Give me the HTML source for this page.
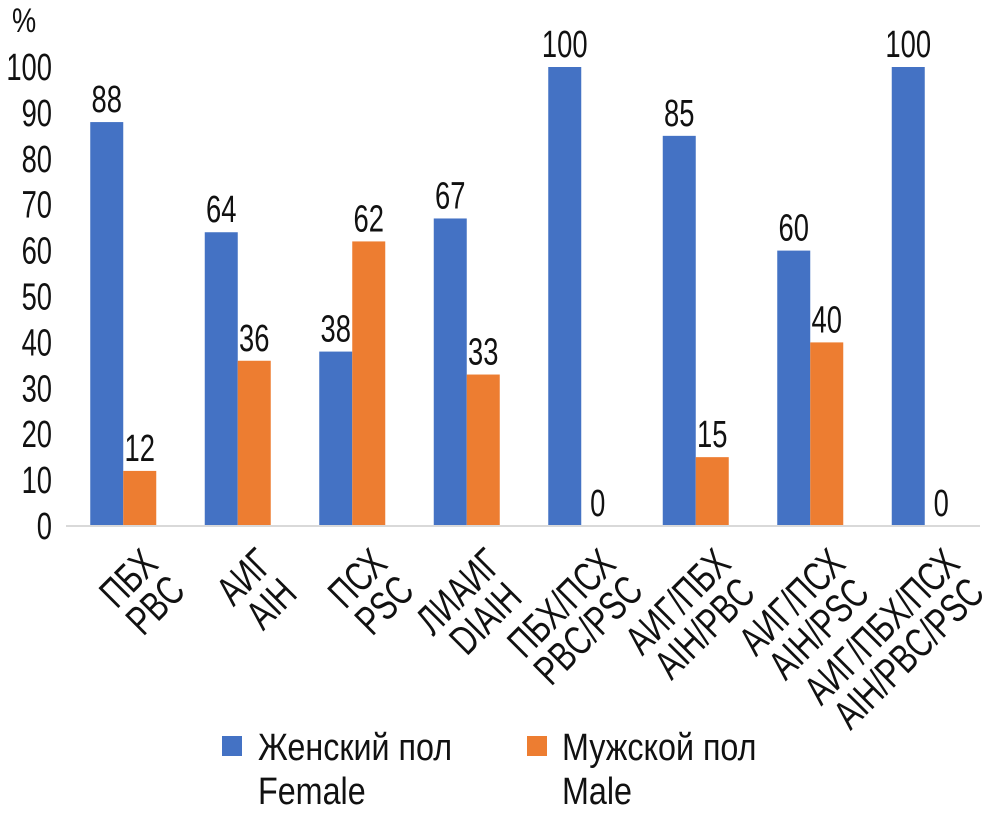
<!DOCTYPE html>
<html><head><meta charset="utf-8"><style>
body{margin:0;background:#fff;}
svg text{font-family:"Liberation Sans Narrow","Liberation Sans",sans-serif;fill:#111;}
</style></head><body>
<svg id="chart" width="982" height="816" viewBox="0 0 982 816" xmlns="http://www.w3.org/2000/svg">
<g id="yaxis"></g>
<g id="bars"></g>
<g id="xlabels"></g>
<text transform="translate(12,32) scale(0.8,1)" font-size="34">%</text>
<line x1="66" y1="526" x2="980" y2="526" stroke="#d9d9d9" stroke-width="2"/>
<g>
<g>
<rect x="222" y="736" width="20" height="20" fill="#4472C4"/>
<text transform="translate(258,760) scale(0.85,1)" font-size="38">Женский пол</text>
<text transform="translate(258,804) scale(0.85,1)" font-size="38">Female</text>
</g>
<g>
<rect x="527" y="736" width="20" height="20" fill="#ED7D31"/>
<text transform="translate(562,760) scale(0.85,1)" font-size="38">Мужской пол</text>
<text transform="translate(562,804) scale(0.85,1)" font-size="38">Male</text>
</g>
</g>
</svg>
<script>
const categories=[["ПБХ","PBC"],["АИГ","AIH"],["ПСХ","PSC"],["ЛИАИГ","DIAIH"],["ПБХ/ПСХ","PBC/PSC"],["АИГ/ПБХ","AIH/PBC"],["АИГ/ПСХ","AIH/PSC"],["АИГ/ПБХ/ПСХ","AIH/PBC/PSC"]];
const female=[88,64,38,67,100,85,60,100];
const male=[12,36,62,33,0,15,40,0];
const yTicks=[0,10,20,30,40,50,60,70,80,90,100];
const NS="http://www.w3.org/2000/svg";
const x0=66,step=114.5,bw=33,yb=526,yt=67,SX=0.72,LX=0.74;
const y=v=>yb-(v/100)*(yb-yt);
const cx=i=>x0+step*(i+0.5);
function mk(t,a,p){const e=document.createElementNS(NS,t);for(const k in a)e.setAttribute(k,a[k]);p.appendChild(e);return e;}
function stext(x,yy,s,size,anchor,p,sx){const t=mk('text',{transform:`translate(${x},${yy}) scale(${sx||SX},1)`,'font-size':size,'text-anchor':anchor},p);t.textContent=s;return t;}
const ya=document.getElementById('yaxis'),bars=document.getElementById('bars'),xl=document.getElementById('xlabels');
yTicks.forEach(v=>{const t=stext(52,y(v)+13,v,38,'end',ya);

});
function bar(v,x,col,name){
 const r=mk('rect',{x:x,y:y(v),width:bw,height:yb-y(v),fill:col},bars);
 
 
 const t=stext(x+bw/2,y(v)-10,v,38,'middle',bars);
 
 
}
categories.forEach((c,i)=>{
 bar(female[i],cx(i)-bw,'#4472C4','bar-female-'+i);
 bar(male[i],cx(i),'#ED7D31','bar-male-'+i);
 const g=mk('g',{transform:`translate(${cx(i)+13},542) rotate(-45)`},xl);
 
 
 const ts=c.map((s,j)=>stext(0,34+j*38,s,41,'middle',g,LX));
 const w=Math.max(...ts.map(t=>t.getComputedTextLength()))*LX;
 ts.forEach((t,j)=>t.setAttribute('transform',`translate(${-w/2},${34+j*38}) scale(${LX},1)`));
});
</script>
</body></html>
